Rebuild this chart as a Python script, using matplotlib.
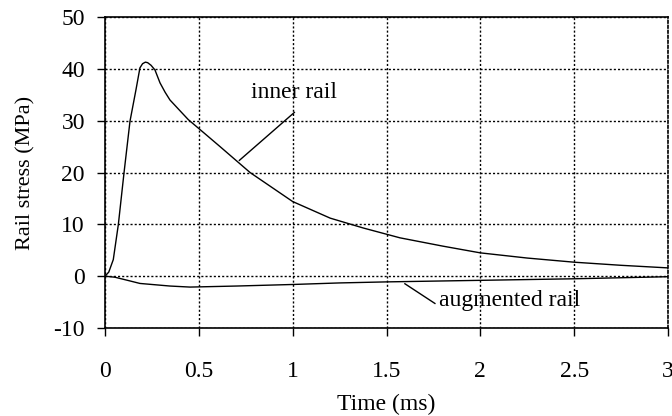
import matplotlib
matplotlib.use("Agg")
import matplotlib.pyplot as plt

plt.rcParams['font.family'] = ['Liberation Serif', 'DejaVu Serif']
plt.rcParams['axes.unicode_minus'] = False

# inner rail stress (MPa) vs time (ms)
t_inner = [0.0, 0.02, 0.044, 0.071, 0.101, 0.133, 0.165, 0.186, 0.2, 0.215, 0.227,
           0.245, 0.266, 0.293, 0.32, 0.346, 0.4, 0.444, 0.506, 0.613, 0.773,
           1.0, 1.2, 1.376, 1.572, 1.8, 2.0, 2.25, 2.5, 2.75, 3.0]
s_inner = [0.0, 0.8, 3.2, 10.0, 19.9, 29.9, 36.0, 40.2, 41.0, 41.3, 41.2,
           40.7, 39.8, 37.3, 35.5, 34.0, 31.9, 30.2, 28.3, 25.0, 20.0,
           14.4, 11.2, 9.3, 7.4, 5.8, 4.5, 3.5, 2.7, 2.1, 1.6]

# augmented rail stress (MPa) vs time (ms)
t_aug = [0.0, 0.053, 0.12, 0.186, 0.346, 0.453, 0.7, 1.0, 1.25, 1.5, 2.0, 2.5, 3.0]
s_aug = [0.0, -0.2, -0.8, -1.4, -1.9, -2.1, -1.9, -1.6, -1.3, -1.1, -0.8, -0.5, -0.1]

x_ticks = [0, 0.5, 1, 1.5, 2, 2.5, 3]
x_labels = ['0', '0.5', '1', '1.5', '2', '2.5', '3']
y_ticks = [-10, 0, 10, 20, 30, 40, 50]

fig = plt.figure(figsize=(6.72, 4.16), dpi=100)
ax = fig.add_axes([0.1563, 0.2115, 0.8377, 0.7475])

ax.plot(t_inner, s_inner, color='black', lw=1.0)
ax.plot(t_aug, s_aug, color='black', lw=1.0)

ax.set_xlim(0, 3)
ax.set_ylim(-10, 50)
ax.set_xticks(x_ticks)
ax.set_xticklabels(x_labels)
ax.set_yticks(y_ticks)
ax.grid(True, color='black', linestyle=(0, (1.5, 1.5)), linewidth=1.0)
ax.set_axisbelow(True)

for side in ['left', 'bottom', 'top']:
    ax.spines[side].set_linewidth(1.2)
ax.spines['right'].set_linestyle((0, (1.5, 1.5)))
ax.spines['right'].set_linewidth(1.2)

ax.tick_params(direction='out', length=5.5, width=1.0, labelsize=17,
               top=False, right=False)
ax.tick_params(axis='x', pad=18)
ax.tick_params(axis='y', pad=9)

ax.set_xlabel('Time (ms)', fontsize=17, labelpad=9)
ax.set_ylabel('Rail stress (MPa)', fontsize=16, labelpad=13)

# annotations with leader lines
ax.plot([0.716, 1.009], [22.35, 31.6], color='black', lw=1.0)
ax.text(0.778, 35.4, 'inner rail', fontsize=17, ha='left', va='center')
ax.plot([1.598, 1.758], [-1.46, -5.26], color='black', lw=1.0)
ax.text(1.78, -4.6, 'augmented rail', fontsize=17, ha='left', va='center')

fig.savefig('out.png', dpi=100)
